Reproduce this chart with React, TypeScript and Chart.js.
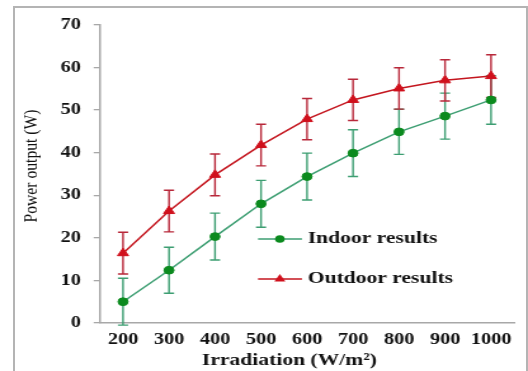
import React, { useEffect, useRef } from 'react';
import { Chart, registerables } from 'chart.js';

Chart.register(...registerables);

// ---- data ----
const categories = ['200', '300', '400', '500', '600', '700', '800', '900', '1000'];
const indoorValues = [5.0, 12.4, 20.3, 28.0, 34.4, 39.9, 44.9, 48.6, 52.4];
const outdoorValues = [16.4, 26.3, 34.8, 41.8, 47.9, 52.4, 55.1, 57.0, 58.0];
const indoorErrors = [5.5, 5.4, 5.5, 5.5, 5.5, 5.5, 5.3, 5.4, 5.7];
const outdoorErrors = [4.9, 4.9, 4.9, 4.9, 4.85, 4.85, 4.85, 4.85, 5.0];
const seriesNames = ['Indoor results', 'Outdoor results'];
const yMin = 0;
const yMax = 70;
const yStep = 10;
const xTitle = 'Irradiation (W/m²)';
const yTitle = 'Power output (W)';

// ---- styling ----
const STRETCH = 528 / 416; // the figure is stretched horizontally
const W0 = 416;
const H0 = 371;
const GREEN_LINE = '#3d9e72';
const GREEN_MARK = '#0b8a1e';
const RED_LINE = '#c4161f';
const RED_MARK = '#d0101c';
const RED_ERR = '#b8283a';
const AXIS_GRAY = '#a8a8a8';
const SERIF = '"Liberation Serif", "Times New Roman", serif';

function drawMarker(ctx: CanvasRenderingContext2D, style: string, r: number, x: number, y: number) {
  ctx.beginPath();
  if (style === 'circle') {
    ctx.arc(x, y, r, 0, Math.PI * 2);
  } else {
    const a = Math.PI / 2;
    ctx.moveTo(x + Math.cos(-a) * r, y + Math.sin(-a) * r);
    ctx.lineTo(x + Math.cos(-a + (2 * Math.PI) / 3) * r, y + Math.sin(-a + (2 * Math.PI) / 3) * r);
    ctx.lineTo(x + Math.cos(-a + (4 * Math.PI) / 3) * r, y + Math.sin(-a + (4 * Math.PI) / 3) * r);
    ctx.closePath();
  }
  ctx.fill();
}

const errorBarPlugin = {
  id: 'errorBars',
  beforeDatasetsDraw(chart: any) {
    const ctx = chart.ctx;
    const yScale = chart.scales.y;
    const errs = [indoorErrors, outdoorErrors];
    const colors = [GREEN_LINE, RED_ERR];
    chart.data.datasets.forEach((ds: any, i: number) => {
      const meta = chart.getDatasetMeta(i);
      ctx.save();
      ctx.strokeStyle = colors[i];
      ctx.lineWidth = 1.4;
      meta.data.forEach((pt: any, j: number) => {
        const v = ds.data[j];
        const e = errs[i][j];
        const x = pt.x;
        const yt = yScale.getPixelForValue(v + e);
        const yb = yScale.getPixelForValue(v - e);
        const cap = 4;
        ctx.beginPath();
        ctx.moveTo(x, yt);
        ctx.lineTo(x, yb);
        ctx.moveTo(x - cap, yt);
        ctx.lineTo(x + cap, yt);
        ctx.moveTo(x - cap, yb);
        ctx.lineTo(x + cap, yb);
        ctx.stroke();
      });
      ctx.restore();
    });
  },
};

const decorPlugin = {
  id: 'decor',
  afterDraw(chart: any) {
    const ctx = chart.ctx;
    // y axis title (tall, narrow lettering)
    ctx.save();
    ctx.font = `15px ${SERIF}`;
    ctx.fillStyle = '#111';
    ctx.textAlign = 'center';
    ctx.textBaseline = 'middle';
    const w = ctx.measureText(yTitle).width;
    const k = 113 / w;
    ctx.translate(24.8, 166);
    ctx.rotate(-Math.PI / 2);
    ctx.scale(k, 1);
    ctx.fillText(yTitle, 0, 0);
    ctx.restore();

    // x axis title
    ctx.save();
    ctx.font = `bold 17px ${SERIF}`;
    ctx.fillStyle = '#111';
    ctx.textAlign = 'center';
    ctx.textBaseline = 'middle';
    ctx.fillText(xTitle, 228, 361);
    ctx.restore();

    // legend
    const rows = [
      { y: 239, line: GREEN_LINE, mark: GREEN_MARK, style: 'circle', r: 3.8 },
      { y: 279, line: RED_LINE, mark: RED_MARK, style: 'triangle', r: 5 },
    ];
    rows.forEach((row, i) => {
      ctx.save();
      ctx.strokeStyle = row.line;
      ctx.lineWidth = 1.5;
      ctx.beginPath();
      ctx.moveTo(203.3, row.y);
      ctx.lineTo(237.9, row.y);
      ctx.stroke();
      ctx.fillStyle = row.mark;
      drawMarker(ctx, row.style, row.r, 220.5, row.y);
      ctx.fillStyle = '#111';
      ctx.font = `bold 17px ${SERIF}`;
      ctx.textAlign = 'left';
      ctx.textBaseline = 'middle';
      ctx.fillText(seriesNames[i], 242.5, row.y);
      ctx.restore();
    });
  },
};

export default function App() {
  const ref = useRef<HTMLCanvasElement | null>(null);

  useEffect(() => {
    if (!ref.current) return;
    const chart = new Chart(ref.current, {
      type: 'line',
      data: {
        labels: categories,
        datasets: [
          {
            label: seriesNames[0],
            data: indoorValues,
            borderColor: GREEN_LINE,
            borderWidth: 1.5,
            backgroundColor: GREEN_MARK,
            pointBackgroundColor: GREEN_MARK,
            pointBorderColor: GREEN_MARK,
            pointBorderWidth: 1,
            pointStyle: 'circle',
            pointRadius: 3.9,
            tension: 0,
            fill: false,
          },
          {
            label: seriesNames[1],
            data: outdoorValues,
            borderColor: RED_LINE,
            borderWidth: 1.5,
            backgroundColor: RED_MARK,
            pointBackgroundColor: RED_MARK,
            pointBorderColor: RED_MARK,
            pointBorderWidth: 1,
            pointStyle: 'triangle',
            pointRadius: 5,
            tension: 0,
            fill: false,
          },
        ],
      },
      options: {
        responsive: false,
        devicePixelRatio: 1,
        animation: false,
        events: [],
        layout: { padding: { left: 0, right: 11, top: 25, bottom: 0 } },
        plugins: {
          legend: { display: false },
          tooltip: { enabled: false },
        },
        scales: {
          x: {
            type: 'category',
            offset: true,
            grid: { display: true, drawOnChartArea: false, drawTicks: false },
            border: { display: true, color: AXIS_GRAY, width: 1.5 },
            ticks: {
              color: '#111',
              padding: 7,
              maxRotation: 0,
              autoSkip: false,
              font: { family: SERIF, size: 16, weight: 'bold' },
            },
            title: { display: false },
            afterFit: (s: any) => {
              s.height = 48;
            },
          },
          y: {
            type: 'linear',
            min: yMin,
            max: yMax,
            grid: {
              display: true,
              drawOnChartArea: false,
              drawTicks: true,
              tickLength: 5,
              color: AXIS_GRAY,
              lineWidth: 1.3,
            },
            border: { display: true, color: AXIS_GRAY, width: 1.5 },
            ticks: {
              stepSize: yStep,
              color: '#111',
              padding: 10,
              font: { family: SERIF, size: 16, weight: 'bold' },
            },
            afterFit: (s: any) => {
              s.width = 78.8;
            },
          },
        },
      },
      plugins: [errorBarPlugin, decorPlugin],
    } as any);
    return () => chart.destroy();
  }, []);

  return (
    <div
      style={{
        position: 'fixed',
        left: 0,
        top: 0,
        width: 528,
        height: 371,
        background: '#fff',
        overflow: 'hidden',
      }}
    >
      <div
        style={{
          position: 'absolute',
          left: 13,
          top: 6,
          width: 511,
          height: 400,
          border: '2px solid #b4b4b4',
        }}
      />
      <canvas
        ref={ref}
        width={W0}
        height={H0}
        style={{
          position: 'absolute',
          left: 0,
          top: 0,
          width: `${W0 * STRETCH}px`,
          height: `${H0}px`,
          display: 'block',
        }}
      />
    </div>
  );
}
